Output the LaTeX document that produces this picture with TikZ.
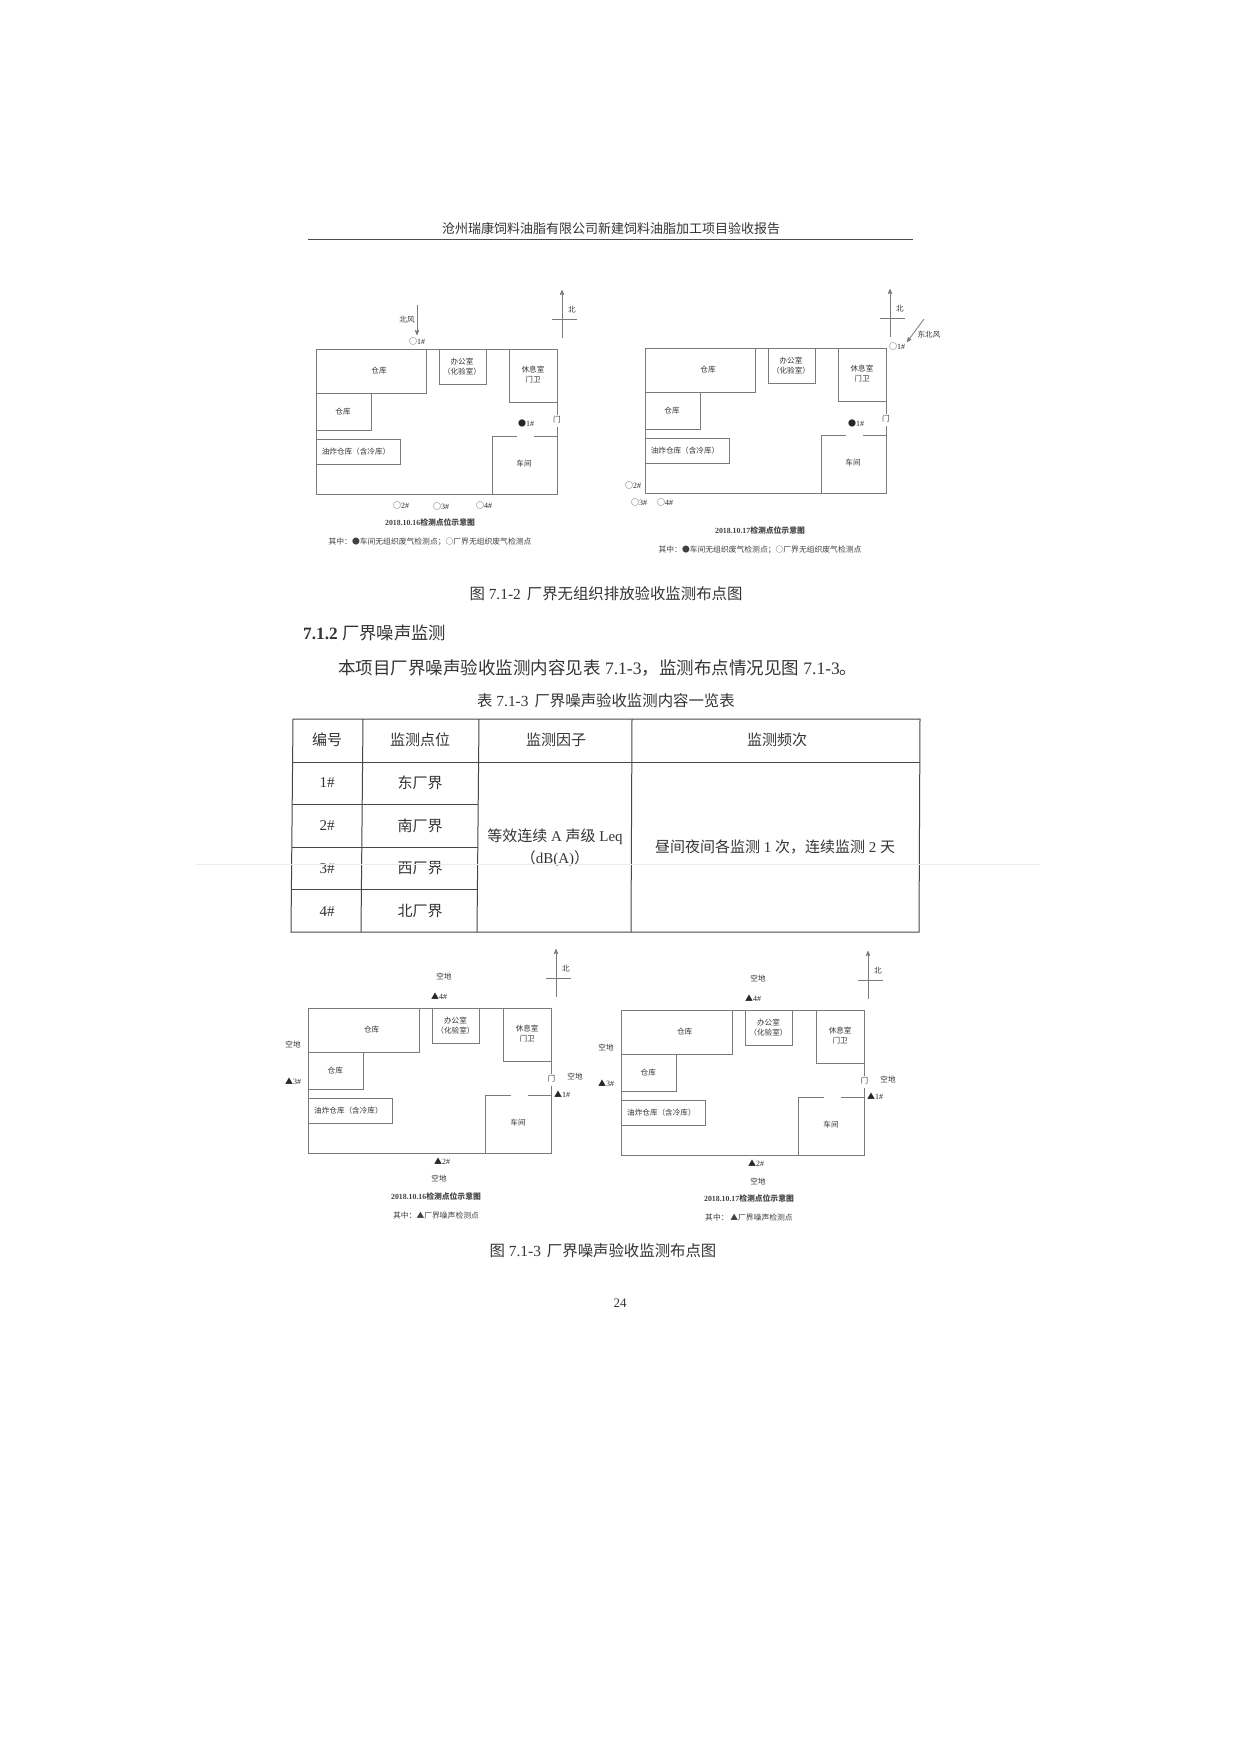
\documentclass[tikz,border=0pt]{standalone}
\usepackage{fontspec}
\usepackage{tikz}
\setmainfont{Liberation Serif}
\newfontfamily\zh{Noto Sans CJK SC}
\usetikzlibrary{arrows}

\tikzset{
  wall/.style={draw=black!52,line width=0.8pt},
  room node/.style={font=\fontsize{7.6}{9}\selectfont\zh,text=black!80,inner sep=0pt},
  point node/.style={font=\fontsize{8}{9}\selectfont,text=black!85,inner sep=0pt},
  note node/.style={font=\fontsize{7.8}{9}\selectfont\bfseries,text=black!75,inner sep=0pt},
  page node/.style={font=\fontsize{15.4}{18}\selectfont,text=black!80,inner sep=0pt},
  cell node/.style={font=\fontsize{15}{18}\selectfont,text=black!80,inner sep=0pt},
  grid line/.style={draw=black!72,line width=1pt},
  factory/.pic={
    \draw[wall] (241,66) -- (241,0) -- (0,0) -- (0,145) -- (241,145) -- (241,78);
    \draw[wall] (110,0) -- (110,44) -- (0,44);
    \draw[wall] (55,44) -- (55,81) -- (0,81);
    \draw[wall] (0,90) -- (84,90) -- (84,115) -- (0,115);
    \draw[wall] (123,0) -- (123,35) -- (170,35) -- (170,0);
    \draw[wall] (193,0) -- (193,53) -- (241,53);
    \draw[wall] (176,145) -- (176,87) -- (201,87);
    \draw[wall] (218,87) -- (241,87);
    \node[room node] (-store1) at (63,22) {仓库};
    \node[room node] (-store2) at (27,63) {仓库};
    \node[room node] (-fry) at (40,103) {油炸仓库（含冷库）};
    \node[room node] (-office) at (146,13) {办公室};
    \node[room node] (-lab) at (146,23) {（化验室）};
    \node[room node] (-rest) at (217,21) {休息室};
    \node[room node] (-guard) at (217,31) {门卫};
    \node[room node] (-gate) at (241,71) {门};
    \node[room node] (-shop) at (208,115) {车间};
  },
  north mark/.pic={
    \coordinate (-top) at (0,-29);
    \coordinate (-bot) at (0,19);
    \coordinate (-west) at (-10,0);
    \coordinate (-east) at (15,0);
    \draw[wall,->,>=stealth'] (-bot) -- (-top);
    \draw[wall] (-west) -- (-east);
    \node[room node] (-bei) at (10,-9) {北};
  }
}

\begin{document}
\begin{tikzpicture}[x=1pt,y=-1pt,node distance=20pt]
  \useasboundingbox (0,0) rectangle (1240,1754);

  % page head
  \node[page node,font=\fontsize{13}{15}\selectfont\zh] (head) at (611,229) {沧州瑞康饲料油脂有限公司新建饲料油脂加工项目验收报告};
  \coordinate (ruleL) at (308,239);
  \coordinate (ruleR) at (913,239);
  \draw[draw=black!70,line width=1pt] (ruleL) -- (ruleR);

  % first pair of plans
  \pic (a) at (316,349) {factory};
  \pic (na) at (562,319) {north mark};
  \coordinate (windA0) at (417,305);
  \coordinate (windA1) at (417,335);
  \draw[wall,->,>=stealth'] (windA0) -- (windA1);
  \node[room node] (windAt) at (407,320) {北风};
  \node[point node] (a1) at (417,341) {{\zh ○}1\#};
  \node[point node] (a5) at (526,423) {{\zh ●}1\#};
  \node[point node] (a2) at (401,505) {{\zh ○}2\#};
  \node[point node] (a3) at (441,506) {{\zh ○}3\#};
  \node[point node] (a4) at (484,505) {{\zh ○}4\#};
  \node[note node] (capA) at (430,522) {2018.10.16{\zh 检测点位示意图}};
  \node[note node] (legA) [below of=capA] {{\zh\mdseries 其中：●车间无组织废气检测点；○厂界无组织废气检测点}};

  \pic (b) at (645,348) {factory};
  \pic (nb) at (890,318) {north mark};
  \coordinate (windB0) at (924,319);
  \coordinate (windB1) at (907,342);
  \draw[wall,->,>=stealth'] (windB0) -- (windB1);
  \node[room node] (windBt) at (929,335) {东北风};
  \node[point node] (b1) at (897,346) {{\zh ○}1\#};
  \node[point node] (b5) at (856,423) {{\zh ●}1\#};
  \node[point node] (b2) at (633,485) {{\zh ○}2\#};
  \node[point node] (b3) at (639,502) {{\zh ○}3\#};
  \node[point node] (b4) at (665,502) {{\zh ○}4\#};
  \node[note node] (capB) at (760,530) {2018.10.17{\zh 检测点位示意图}};
  \node[note node] (legB) [below of=capB] {{\zh\mdseries 其中：●车间无组织废气检测点；○厂界无组织废气检测点}};

  % running text
  \node[page node] (figA) at (606,594) {{\zh 图} 7.1-2\hspace{6pt}{\zh 厂界无组织排放验收监测布点图}};
  \node[page node,anchor=west,font=\fontsize{17.3}{20}\selectfont] (sec) at (303,633) {{\bfseries 7.1.2} {\zh 厂界噪声监测}};
  \node[page node,anchor=west,font=\fontsize{17.5}{20}\selectfont] (para) at (338,668) {{\zh 本项目厂界噪声验收监测内容见表} 7.1-3{\zh ，监测布点情况见图} 7.1-3{\zh 。}};
  \node[page node] (tabT) at (606,701) {{\zh 表} 7.1-3\hspace{6pt}{\zh 厂界噪声验收监测内容一览表}};

  % table
  \draw[grid line] (293,719) -- (920,719) -- (919,932) -- (291,932) -- cycle;
  \draw[grid line] (293,762) -- (920,762);
  \foreach \rowy/\rowx in {804/292,847/292,889/291}
    \draw[grid line] (\rowx,\rowy) -- (478,\rowy);
  \draw[grid line] (363,719) -- (361,932);
  \draw[grid line] (479,719) -- (477,932);
  \draw[grid line] (632,719) -- (631,932);

  \node[cell node,font=\fontsize{15}{18}\selectfont\zh] (hNo) at (327,740) {编号};
  \node[cell node,font=\fontsize{15}{18}\selectfont\zh] (hPos) at (420,740) {监测点位};
  \node[cell node,font=\fontsize{15}{18}\selectfont\zh] (hFac) at (556,740) {监测因子};
  \node[cell node,font=\fontsize{15}{18}\selectfont\zh] (hFrq) at (777,740) {监测频次};
  \begin{scope}[node distance=42.7pt]
    \node[cell node] (no1) at (327,783) {1\#};
    \node[cell node] (no2) [below of=no1] {2\#};
    \node[cell node] (no3) [below of=no2] {3\#};
    \node[cell node] (no4) [below of=no3] {4\#};
    \node[cell node,font=\fontsize{15}{18}\selectfont\zh] (pos1) at (420,783) {东厂界};
    \node[cell node,font=\fontsize{15}{18}\selectfont\zh] (pos2) [below of=pos1] {南厂界};
    \node[cell node,font=\fontsize{15}{18}\selectfont\zh] (pos3) [below of=pos2] {西厂界};
    \node[cell node,font=\fontsize{15}{18}\selectfont\zh] (pos4) [below of=pos3] {北厂界};
  \end{scope}
  \node[cell node] (fac1) at (555,837) {{\zh 等效连续} A {\zh 声级} Leq};
  \node[cell node] (fac2) at (555,859) {{\zh （}dB(A){\zh ）}};
  \node[cell node] (frq) at (775,847) {{\zh 昼间夜间各监测} 1 {\zh 次，连续监测} 2 {\zh 天}};

  % scan fold
  \draw[draw=black!8,line width=0.6pt] (196,864) -- (1040,864);

  % second pair of plans
  \pic[xscale=1.01] (c) at (308,1008) {factory};
  \pic (nc) at (556,978) {north mark};
  \node[room node] (c4t) at (444,976) {空地};
  \node[room node] (c3t) at (293,1044) {空地};
  \node[room node] (c1t) at (575,1076) {空地};
  \node[room node] (c2t) at (439,1178) {空地};
  \node[point node] (c4) at (439,996) {{\zh ▲}4\#};
  \node[point node] (c3) at (293,1081) {{\zh ▲}3\#};
  \node[point node] (c1) at (562,1094) {{\zh ▲}1\#};
  \node[point node] (c2) at (442,1161) {{\zh ▲}2\#};
  \node[note node] (capC) at (436,1196) {2018.10.16{\zh 检测点位示意图}};
  \node[note node] (legC) [below of=capC] {{\zh\mdseries 其中：▲厂界噪声检测点}};

  \pic[xscale=1.01] (d) at (621,1010) {factory};
  \pic (nd) at (868,980) {north mark};
  \node[room node] (d4t) at (758,978) {空地};
  \node[room node] (d3t) at (606,1047) {空地};
  \node[room node] (d1t) at (888,1079) {空地};
  \node[room node] (d2t) at (758,1181) {空地};
  \node[point node] (d4) at (753,998) {{\zh ▲}4\#};
  \node[point node] (d3) at (606,1083) {{\zh ▲}3\#};
  \node[point node] (d1) at (875,1096) {{\zh ▲}1\#};
  \node[point node] (d2) at (756,1163) {{\zh ▲}2\#};
  \node[note node] (capD) at (749,1198) {2018.10.17{\zh 检测点位示意图}};
  \node[note node] (legD) [below of=capD] {{\zh\mdseries 其中：\ ▲厂界噪声检测点}};

  \node[page node] (figB) at (603,1251) {{\zh 图} 7.1-3\hspace{6pt}{\zh 厂界噪声验收监测布点图}};
  \node[page node,font=\fontsize{13}{15}\selectfont] (pageNo) at (620,1303) {24};

\end{tikzpicture}
\end{document}
